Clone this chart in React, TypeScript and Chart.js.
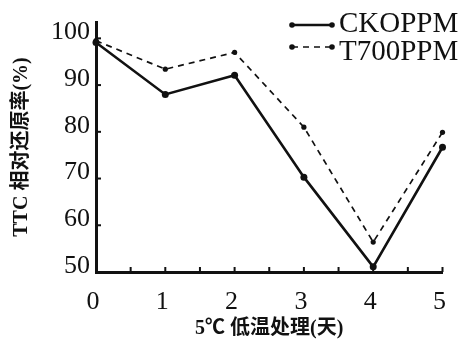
import React, { useEffect, useRef } from "react";
import { Chart, registerables } from "chart.js";

Chart.register(...registerables);

const days = [0, 1, 2, 3, 4, 5];
const ckValues = [99.1, 88, 92.1, 70.3, 51.1, 76.7];
const t700Values = [99.5, 93.4, 97, 81, 56.4, 79.9];
const seriesLabels = ["CKOPPM", "T700PPM"];
const xTitle = "5℃ 低温处理(天)";
const yTitle = "TTC 相对还原率(%)";
const yTickValues = [50, 60, 70, 80, 90, 100];
const yMin = 50;
const yMax = 103.5;
const xMinorStep = 0.5;

const INK = "#111111";

const innerTicksPlugin = {
  id: "innerTicks",
  afterDraw(chart: any) {
    const { ctx, chartArea, scales } = chart;
    ctx.save();
    ctx.strokeStyle = INK;
    ctx.lineWidth = 2;
    yTickValues.slice(1).forEach((v) => {
      const y = scales.y.getPixelForValue(v);
      ctx.beginPath();
      ctx.moveTo(chartArea.left, y);
      ctx.lineTo(chartArea.left + 5, y);
      ctx.stroke();
    });
    const last = days[days.length - 1];
    for (let k = 1; k * xMinorStep <= last + 1e-6; k++) {
      const x = scales.x.getPixelForValue(k * xMinorStep);
      ctx.beginPath();
      ctx.moveTo(x, chartArea.bottom);
      ctx.lineTo(x, chartArea.bottom - 5);
      ctx.stroke();
    }
    ctx.restore();
  },
};

const legendPlugin = {
  id: "sketchLegend",
  afterDraw(chart: any) {
    const { ctx } = chart;
    const lineY = [25, 47];
    const textY = [24, 52];
    chart.data.datasets.forEach((ds: any, i: number) => {
      const x0 = 292;
      const x1 = 332;
      ctx.save();
      ctx.strokeStyle = INK;
      ctx.fillStyle = INK;
      ctx.lineWidth = ds.borderWidth;
      ctx.setLineDash(ds.borderDash || []);
      ctx.beginPath();
      ctx.moveTo(x0, lineY[i]);
      ctx.lineTo(x1, lineY[i]);
      ctx.stroke();
      ctx.setLineDash([]);
      [x0, x1].forEach((x) => {
        ctx.beginPath();
        ctx.arc(x, lineY[i], 2.8, 0, Math.PI * 2);
        ctx.fill();
      });
      ctx.font = "29px 'Liberation Serif', serif";
      ctx.textBaseline = "middle";
      ctx.textAlign = "left";
      ctx.fillText(ds.label, 339, textY[i]);
      ctx.restore();
    });
  },
};

export default function App() {
  const canvasRef = useRef<HTMLCanvasElement | null>(null);

  useEffect(() => {
    document.body.style.margin = "0";
    const canvas = canvasRef.current;
    if (!canvas) return;
    const chart = new Chart(canvas, {
      type: "line",
      data: {
        datasets: [
          {
            label: seriesLabels[0],
            data: days.map((d, i) => ({ x: d, y: ckValues[i] })),
            borderColor: INK,
            backgroundColor: INK,
            borderWidth: 2.6,
            pointRadius: 3.5,
            pointBorderWidth: 0,
            clip: false,
            tension: 0,
          },
          {
            label: seriesLabels[1],
            data: days.map((d, i) => ({ x: d, y: t700Values[i] })),
            borderColor: INK,
            backgroundColor: INK,
            borderWidth: 1.7,
            borderDash: [6, 5],
            pointRadius: 2.6,
            pointBorderWidth: 0,
            clip: false,
            tension: 0,
          },
        ],
      },
      options: {
        animation: false,
        responsive: false,
        maintainAspectRatio: false,
        layout: { padding: { left: 0, right: 7, top: 22, bottom: 0 } },
        plugins: {
          legend: { display: false },
          tooltip: { enabled: false },
        },
        scales: {
          x: {
            type: "linear",
            min: days[0],
            max: days[days.length - 1],
            grid: { display: false, drawTicks: false },
            border: { display: true, color: INK, width: 3 },
            ticks: {
              stepSize: 1,
              color: INK,
              padding: 15,
              labelOffset: -3,
              font: { family: "'Liberation Serif', serif", size: 26 },
            },
            title: {
              display: true,
              text: xTitle,
              color: INK,
              padding: { top: 0, bottom: 9 },
              font: { family: "'Liberation Serif', 'Noto Sans CJK SC', serif", size: 20, weight: "bold" },
            },
            afterFit: (s: any) => {
              s.height = 78;
            },
          },
          y: {
            type: "linear",
            min: yMin,
            max: yMax,
            grid: { display: false, drawTicks: false },
            border: { display: true, color: INK, width: 3 },
            afterBuildTicks: (s: any) => {
              s.ticks = yTickValues.map((v) => ({ value: v }));
            },
            ticks: {
              autoSkip: false,
              color: INK,
              padding: 6,
              labelOffset: -6,
              font: { family: "'Liberation Serif', serif", size: 26 },
            },
            title: {
              display: true,
              text: yTitle,
              color: INK,
              padding: { top: 10, bottom: 0 },
              font: { family: "'Liberation Serif', 'Noto Sans CJK SC', serif", size: 20, weight: "bold" },
            },
            afterFit: (s: any) => {
              s.width = 96;
            },
          },
        },
      },
      plugins: [innerTicksPlugin, legendPlugin],
    } as any);
    return () => chart.destroy();
  }, []);

  return (
    <div style={{ position: "absolute", left: 0, top: 0, width: 464, height: 350, background: "#fff" }}>
      <canvas ref={canvasRef} width={464} height={350} style={{ width: 464, height: 350 }} />
    </div>
  );
}
